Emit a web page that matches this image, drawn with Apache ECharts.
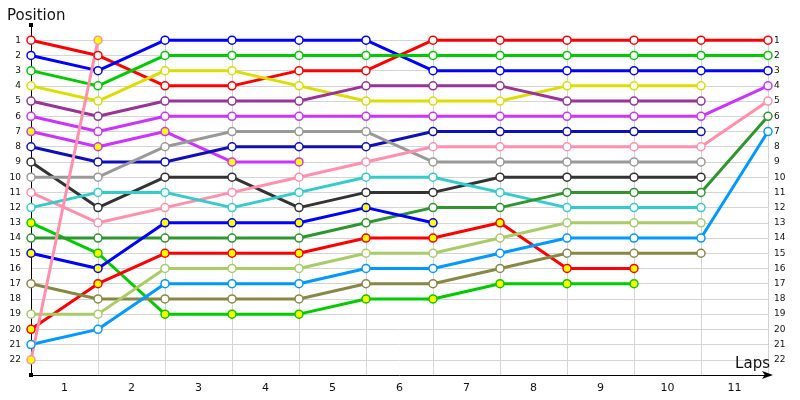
<!DOCTYPE html>
<html>
<head>
<meta charset="utf-8">
<script src="https://cdn.jsdelivr.net/npm/echarts@6/dist/echarts.min.js"></script>
<style>html,body{margin:0;padding:0;background:#fff}#c{width:800px;height:400px}</style>
</head>
<body>
<div id="c"></div>
<script>
// Tick labels
const lapLabels = ['1','2','3','4','5','6','7','8','9','10','11'];
const positionLabels = ['1','2','3','4','5','6','7','8','9','10','11','12','13','14','15','16','17','18','19','20','21','22'];

// Position of each car at start (index 0) and after each lap
const red1      = [1,2,4,4,3,3,1,1,1,1,1,1];
const blue1     = [2,3,1,1,1,1,3,3,3,3,3,3];
const green1    = [3,4,2,2,2,2,2,2,2,2,2,2];
const yellow1   = [4,5,3,3,4,5,5,5,4,4,4];
const purple1   = [5,6,5,5,5,4,4,4,5,5,5];
const violet1   = [6,7,6,6,6,6,6,6,6,6,6,4];
const violet2   = [7,8,7,9,9];
const navy1     = [8,9,9,8,8,8,7,7,7,7,7];
const darkGray1 = [9,12,10,10,12,11,11,10,10,10,10];
const gray1     = [10,10,8,7,7,7,9,9,9,9,9];
const pink1     = [11,13,12,11,10,9,8,8,8,8,8,5];
const cyan1     = [12,11,11,12,11,10,10,11,12,12,12];
const green2    = [13,15,19,19,19,18,18,17,17,17];
const darkGreen1= [14,14,14,14,14,13,12,12,11,11,11,6];
const blue2     = [15,16,13,13,13,12,13];
const red2      = [20,17,15,15,15,14,14,13,16,16];
const olive1    = [17,18,18,18,18,17,17,16,15,15,15];
const lightGreen1=[19,19,16,16,16,15,15,14,13,13,13];
const lightBlue1= [21,20,17,17,17,16,16,15,14,14,14,7];
const pink2     = [22,1];

const cars = [
  {d: red1, c:'#ff0000', f:false},
  {d: blue1, c:'#0000ff', f:false},
  {d: green1, c:'#00cc00', f:false},
  {d: yellow1, c:'#dddd00', f:false},
  {d: purple1, c:'#993399', f:false},
  {d: violet1, c:'#cc33ff', f:false},
  {d: violet2, c:'#cc33ff', f:true},
  {d: navy1, c:'#1010b8', f:false},
  {d: darkGray1, c:'#333333', f:false},
  {d: gray1, c:'#999999', f:false},
  {d: pink1, c:'#ff8fab', f:false},
  {d: cyan1, c:'#33cccc', f:false},
  {d: green2, c:'#00cc00', f:true},
  {d: darkGreen1, c:'#2d962d', f:false},
  {d: blue2, c:'#0000ff', f:true},
  {d: red2, c:'#ff0000', f:true},
  {d: olive1, c:'#888844', f:false},
  {d: lightGreen1, c:'#a8cc66', f:false},
  {d: lightBlue1, c:'#0099ff', f:false},
  {d: pink2, c:'#ff8fab', f:true}
];

const FONT = 'DejaVu Sans';
const posFmt = v => positionLabels[v - 1] || '';

const series = cars.map(car => ({
  type: 'line',
  xAxisIndex: 1,
  yAxisIndex: 0,
  data: car.d.map((p, i) => [i, p]),
  symbol: 'circle',
  symbolSize: 8,
  showSymbol: true,
  lineStyle: {color: car.c, width: 3},
  itemStyle: {color: car.f ? '#ffff00' : '#ffffff', borderColor: car.c, borderWidth: 1.5},
  emphasis: {disabled: true},
  z: 3
}));

const chart = echarts.init(document.getElementById('c'));
chart.setOption({
  animation: false,
  backgroundColor: '#ffffff',
  title: [
    {text: 'Position', left: 2, top: 4, textStyle: {fontFamily: FONT, fontSize: 15, fontWeight: 'normal', color: '#111'}},
    {text: 'Laps', right: 25, top: 352, textStyle: {fontFamily: FONT, fontSize: 15, fontWeight: 'normal', color: '#111'}}
  ],
  grid: [
    {left: 31, right: 32, top: 25, bottom: 25},
    {left: 31, right: 32, top: 40, bottom: 25}
  ],
  xAxis: [
    {
      type: 'category', gridIndex: 0, data: lapLabels, boundaryGap: true, position: 'bottom',
      axisLine: {show: true, onZero: false, lineStyle: {color: '#000', width: 1}, symbol: ['none', 'arrow'], symbolSize: [6, 11], symbolOffset: [0, 5]},
      axisTick: {show: false},
      splitLine: {show: false},
      axisLabel: {fontFamily: FONT, fontSize: 11, color: '#111', margin: 8}
    },
    {
      type: 'value', gridIndex: 0, min: 0, max: 11, interval: 1, show: false
    },
    {
      type: 'value', gridIndex: 1, min: 0, max: 11, interval: 1,
      axisLine: {show: false}, axisTick: {show: false}, axisLabel: {show: false},
      splitLine: {show: true, showMinLine: false, showMaxLine: true, lineStyle: {color: '#d4d4d4', width: 1}}
    }
  ],
  yAxis: [
    {
      type: 'value', gridIndex: 0, inverse: true, min: 0, max: 23, interval: 1, position: 'left',
      axisLine: {show: true, onZero: false, lineStyle: {color: '#000', width: 1}, symbol: ['rect', 'rect'], symbolSize: [4, 4]},
      axisTick: {show: false},
      axisLabel: {fontFamily: FONT, fontSize: 9, color: '#111', margin: 10, formatter: posFmt},
      splitLine: {show: true, showMinLine: false, showMaxLine: false, lineStyle: {color: '#d4d4d4', width: 1}}
    },
    {
      type: 'value', gridIndex: 0, inverse: true, min: 0, max: 23, interval: 1, position: 'right',
      axisLine: {show: false}, axisTick: {show: false},
      axisLabel: {fontFamily: FONT, fontSize: 9, color: '#111', margin: 6, formatter: posFmt},
      splitLine: {show: false}
    },
    {
      type: 'value', gridIndex: 1, min: 0, max: 1, show: false
    }
  ],
  series: series
});
</script>
</body>
</html>
